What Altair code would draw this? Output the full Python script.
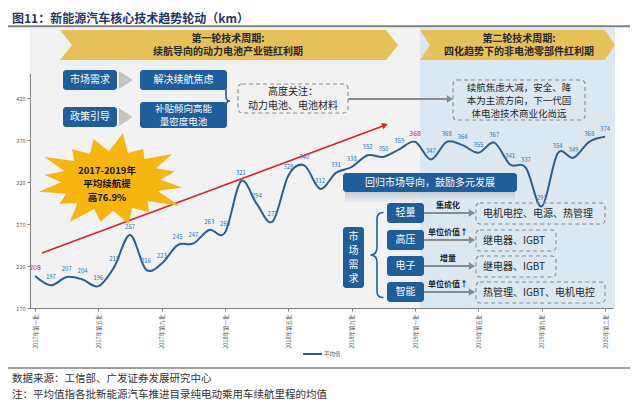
import math
import altair as alt
import pandas as pd

# ---------------- data ----------------
x_labels = [
    "2017年第一批", "2017年第二批", "2017年第三批", "2017年第四批", "2017年第五批", "2017年第六批",
    "2017年第七批", "2017年第八批", "2017年第九批", "2017年第十批", "2017年第十一批", "2017年第十二批",
    "2018年第一批", "2018年第二批", "2018年第三批", "2018年第四批", "2018年第五批", "2018年第六批",
    "2018年第七批", "2018年第八批", "2018年第九批", "2018年第十批", "2018年第十一批", "2018年第十二批",
    "2019年第一批", "2019年第二批", "2019年第三批", "2019年第四批", "2019年第五批", "2019年第六批",
    "2019年第七批", "2019年第八批", "2019年第九批", "2019年第十批", "2019年第十一批",
    "2020年第一批", "2020年第二批",
]
avg_range_km = [208, 197, 207, 204, 196, 219, 257, 216, 223, 245, 247, 263,
                260, 321, 294, 273, 328, 340, 312, 331, 338, 352, 350, 359,
                368, 347, 368, 364, 355, 367, 341, 337, 291, 354, 349, 368, 374]
highlight_idx = [0, 24]
y_ticks = [170, 220, 270, 320, 370, 420]
series_name = "平均值"

df = pd.DataFrame({"i": list(range(len(avg_range_km))), "label": x_labels, "v": avg_range_km})

# ---------------- styles ----------------
FONT = "Noto Sans CJK SC"
BLUE_BOX = "#1f5d9b"
GOLD = "#e6c15a"
LINE = "#2c5e8d"
LBL = "#2e75b6"
RED = "#d4232b"
GRAYLINE = "#808080"

OX, OY = 30, 73  # plot origin on page
one = pd.DataFrame({"k": [0]})


def px(x):
    return alt.value(x - OX)


def py(y):
    return alt.value(y - OY)


def rect(x0, y0, x1, y1, **kw):
    return alt.Chart(one).mark_rect(**kw).encode(x=px(x0), x2=px(x1), y=py(y0), y2=py(y1))


def text(x, y, s, size=10, color="#262626", **kw):
    n = s.count("\n") + 1
    lh = kw.get("lineHeight", size * 1.3)
    kw.setdefault("lineHeight", lh)
    y_first = y - (n - 1) / 2 * lh
    return alt.Chart(one).mark_text(font=FONT, fontSize=size, color=color, lineBreak="\n", **kw).encode(
        x=px(x), y=py(y_first), text=alt.value(s))


def shape(x, y, path, size, **kw):
    return alt.Chart(one).mark_point(shape=path, size=size, opacity=1, **kw).encode(x=px(x), y=py(y))


def rule(x0, y0, x1, y1, **kw):
    return alt.Chart(one).mark_rule(**kw).encode(x=px(x0), x2=px(x1), y=py(y0), y2=py(y1))


def chevron(x0, x1, y0, y1, d, color):
    w = x1 - x0
    r = w / 2
    hy = (y1 - y0) / 2 / r
    dn = d / r
    p = (f"M -1 {-hy:.4f} L {1 - dn:.4f} {-hy:.4f} L 1 0 L {1 - dn:.4f} {hy:.4f} "
         f"L -1 {hy:.4f} L {-1 + dn:.4f} 0 Z")
    return shape((x0 + x1) / 2, (y0 + y1) / 2, p, w * w, filled=True, color=color, strokeWidth=0)


def brace(cx, cy, h, w, right=True, color=BLUE_BOX):
    r = h / 2
    a = w / 2 / r
    s = 1 if right else -1
    p = (f"M {-a*s:.4f} -1 Q 0 -1 0 -0.85 L 0 -0.18 Q 0 0 {a*s:.4f} 0 "
         f"Q 0 0 0 0.18 L 0 0.85 Q 0 1 {-a*s:.4f} 1")
    return shape(cx, cy, p, h * h, filled=False, color=color, strokeWidth=1.6)


def arrow(x0, y, x1, color="#8a8a8a", sw=2.2):
    return [rule(x0, y, x1 - 3, y, color=color, strokeWidth=sw),
            shape(x1 - 2, y, "triangle-right", 55, filled=True, color=color, strokeWidth=0)]


def blue_box(x0, y0, x1, y1, s, size=10, lh=13):
    return [rect(x0, y0, x1, y1, color=BLUE_BOX, cornerRadius=3),
            text((x0 + x1) / 2, (y0 + y1) / 2, s, size=size, color="white", lineHeight=lh)]


def dashed_box(x0, y0, x1, y1):
    return rect(x0, y0, x1, y1, fillOpacity=0, stroke="#8c8c8c", strokeWidth=1.1,
                strokeDash=[4, 3], cornerRadius=4)


layers = []
# background panels
layers.append(rect(30, 28, 420, 309, color="#f2f2f2"))
layers.append(rect(420, 28, 615, 309, color="#dbe8f2"))

# chevron banners
layers.append(chevron(60, 398, 30, 60, 12, GOLD))
layers.append(chevron(420, 615, 30, 60, 10, GOLD))
layers.append(text(228, 45.5, "第一轮技术周期:\n续航导向的动力电池产业链红利期", size=10, fontWeight="bold", lineHeight=13.5))
layers.append(text(519, 45.5, "第二轮技术周期:\n四化趋势下的非电池零部件红利期", size=10, fontWeight="bold", lineHeight=13.5))

# ---------------- main series ----------------
xscale = alt.Scale(domain=[-0.32, 36.5], nice=False, zero=False)
yscale = alt.Scale(domain=[170, 450], nice=False, zero=False)
label_expr = "[" + ",".join(f"'{s}'" for s in x_labels) + "][datum.value]"

line = alt.Chart(df).mark_line(interpolate="cardinal", color=LINE, strokeWidth=2).encode(
    x=alt.X("i:Q", scale=xscale, title=None,
            axis=alt.Axis(values=list(range(len(x_labels))), labelExpr=label_expr, labelAngle=270,
                          labelFontSize=5.5, labelFont=FONT, labelColor="#595959", labelOverlap=False,
                          labelPadding=3, tickSize=3, tickColor=GRAYLINE, domainColor=GRAYLINE,
                          grid=False, zindex=1)),
    y=alt.Y("v:Q", scale=yscale, title=None,
            axis=alt.Axis(values=y_ticks, labelFontSize=5.5, labelFont=FONT, labelColor="#595959",
                          tickSize=3, tickColor=GRAYLINE, domainColor=GRAYLINE, grid=False, zindex=1)),
)
hl_test = " || ".join(f"datum.i == {k}" for k in highlight_idx)
labels = alt.Chart(df).mark_text(font=FONT, dy=-8, fontSize=6).encode(
    x="i:Q", y="v:Q", text="v:Q",
    color=alt.condition(hl_test, alt.value(RED), alt.value(LBL)),
    size=alt.condition(hl_test, alt.value(7), alt.value(6)),
)

# red trend arrow
layers.append(rule(42, 253, 383, 126, color=RED, strokeWidth=1.6))
layers.append(shape(385, 125, "triangle-up", 45, filled=True, color=RED, strokeWidth=0, angle=69.4))

layers.append(line)
layers.append(labels)

# starburst
radii = [1.0, 0.78, 0.95, 0.82, 0.9, 1.0, 0.8, 0.92, 0.86, 1.0, 0.8, 0.93, 0.84, 0.97, 0.82, 0.9]
pts = []
n = len(radii)
for k in range(n):
    a0 = 2 * math.pi * k / n - math.pi / 2 + 0.15
    a1 = a0 + math.pi / n
    ro = radii[k]
    pts.append((ro * math.cos(a0), 0.6 * ro * math.sin(a0)))
    pts.append((0.62 * math.cos(a1), 0.6 * 0.62 * math.sin(a1)))
star_path = "M " + " L ".join(f"{x:.3f} {y:.3f}" for x, y in pts) + " Z"
layers.append(shape(111, 181, star_path, 160 * 160, filled=True, color="#f7b50f", strokeWidth=0))
layers.append(text(107, 184, "2017-2019年\n平均续航提\n高76.9%", size=9.5, fontWeight="bold",
                   color="#111111", lineHeight=13.5))

# upper left flow
layers += blue_box(63, 70, 117, 90, "市场需求")
layers += blue_box(140, 70, 227, 90, "解决续航焦虑")
layers += blue_box(63, 107, 117, 127, "政策引导")
layers += blue_box(140, 102, 227, 128, "补贴倾向高能\n量密度电池", size=9.5)
tri = "M -1 -1.25 L 1 0 L -1 1.25 Z"
layers.append(shape(126, 80, tri, 196, filled=True, color="#c3c3c3", strokeWidth=0))
layers.append(shape(126, 117, tri, 196, filled=True, color="#c3c3c3", strokeWidth=0))
layers.append(brace(226, 101, 52, 8, right=True))
layers.append(dashed_box(238, 84, 348, 113))
layers.append(text(293, 99, "高度关注：\n动力电池、电池材料", size=10, lineHeight=14))
layers += arrow(348, 99, 452)
layers.append(dashed_box(453, 80, 585, 120))
layers.append(text(519, 101, "续航焦虑大减，安全、降\n本为主流方向，下一代固\n体电池技术商业化尚远",
                   size=9.5, lineHeight=13))

# lower right block
layers.append(rect(345, 192, 515, 202, fill=alt.Gradient(
    gradient="linear", x1=0, y1=0, x2=0, y2=1,
    stops=[alt.GradientStop(offset=0, color="#b9c2cb"), alt.GradientStop(offset=1, color="#e6edf3")]),
    opacity=0.8))
layers += blue_box(343, 173, 517, 192, "回归市场导向，鼓励多元发展")
layers += blue_box(343, 227, 364, 288, "市\n场\n需\n求", lh=14)
layers.append(brace(377, 255, 85, 13, right=False))
rows = [("轻量", 203, "集成化", "电机电控、电源、热管理", 605),
        ("高压", 230, "单位价值↑", "继电器、IGBT", 556),
        ("电子", 256, "增量", "继电器、IGBT", 556),
        ("智能", 282, "单位价值↑", "热管理、IGBT、电机电控", 605)]
for name, y0, tag, target, xr in rows:
    yc = y0 + 10
    layers += blue_box(387, y0, 424, y0 + 20, name)
    layers += arrow(424, yc, 474)
    layers.append(text(448, yc - 7, tag, size=8, fontWeight="bold", color="#222222"))
    layers.append(dashed_box(476, y0, xr, y0 + 21))
    layers.append(text(483, yc + 0.5, target, size=10, align="left"))

# legend
layers.append(rule(303, 354, 322, 354, color=LINE, strokeWidth=2))
layers.append(text(324, 354, series_name, size=5.5, align="left", color="#595959"))

# title and footers
layers.append(text(12, 18.5, "图11：新能源汽车核心技术趋势轮动（km）", size=12, align="left",
                   fontWeight="bold", color="#1f3763"))
layers.append(rule(5, 26.3, 630, 26.3, color="#7f7f7f", strokeWidth=2))
layers.append(rule(5, 368, 630, 368, color="#7f7f7f", strokeWidth=1.5))
layers.append(text(12, 379, "数据来源：工信部、广发证券发展研究中心", size=10.5, align="left", color="#333333"))
layers.append(text(12, 395, "注：平均值指各批新能源汽车推进目录纯电动乘用车续航里程的均值", size=10.5,
                   align="left", color="#333333"))

chart = alt.layer(*layers).properties(
    width=583, height=235, autosize="none",
    padding={"left": 22, "top": 65, "right": 19, "bottom": 93},
    background="white",
).configure_view(strokeWidth=0)

chart.save("out.html", embed_options={"renderer": "svg", "actions": False})
